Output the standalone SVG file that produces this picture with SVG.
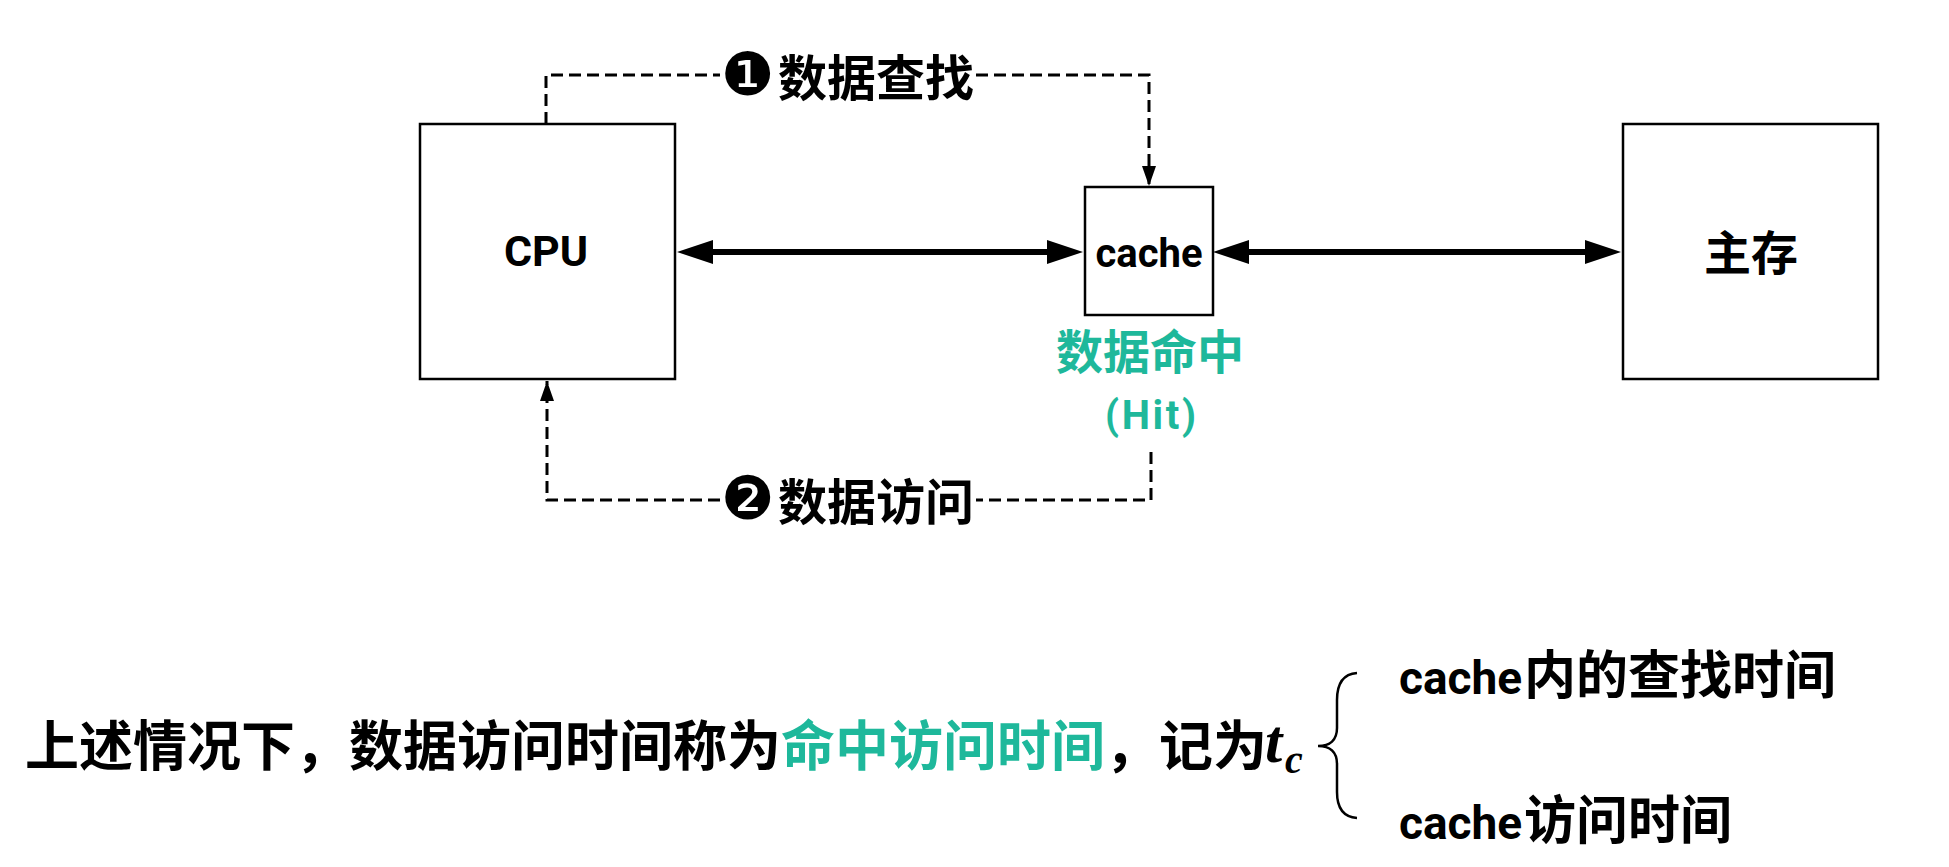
<svg xmlns="http://www.w3.org/2000/svg" width="1949" height="867" viewBox="0 0 1949 867">
<style>
.box{fill:#fff;stroke:#000;stroke-width:2.5}
.dash{fill:none;stroke:#000;stroke-width:3;stroke-dasharray:12 6}
.bus{fill:none;stroke:#000;stroke-width:6}
.lat{font-family:Roboto,"Liberation Sans",sans-serif;font-weight:bold}
.cjk{font-family:"Noto Sans CJK SC",sans-serif;font-weight:bold}
.num{font-family:"DejaVu Sans",sans-serif}
.math{font-family:"Liberation Serif",serif;font-style:italic;font-weight:bold}
.teal{fill:#1eb89b}
.blk{fill:#000}
</style>
<defs>
<marker id="big" markerUnits="userSpaceOnUse" markerWidth="36" markerHeight="24" refX="26" refY="12" orient="auto-start-reverse" viewBox="0 0 36 24">
<path d="M0,0 L36,12 L0,24 z" fill="#000"/>
</marker>
<marker id="small" markerUnits="userSpaceOnUse" markerWidth="20" markerHeight="14" refX="20" refY="7" orient="auto" viewBox="0 0 20 14">
<path d="M0,0 L20,7 L0,14 z" fill="#000"/>
</marker>
</defs>
<g id="connectors">
<path class="bus" d="M687,252 H1073" marker-start="url(#big)" marker-end="url(#big)"/>
<path class="bus" d="M1223,252 H1611" marker-start="url(#big)" marker-end="url(#big)"/>
<path class="dash" d="M546,124 V75 H720"/>
<path class="dash" d="M976,75 H1149 V186" marker-end="url(#small)"/>
<path class="dash" d="M1151,452 V500 H976"/>
<path class="dash" d="M720,500 H547 V381" marker-end="url(#small)"/>
<text x="721" y="95" font-size="60" class="num blk">❶</text>
<text x="778" y="96" font-size="49" class="cjk blk">数据查找</text>
<text x="721" y="519" font-size="60" class="num blk">❷</text>
<text x="778" y="520" font-size="49" class="cjk blk">数据访问</text>
</g>
<g id="cpu">
<rect class="box" x="420" y="124" width="255" height="255"/>
<text x="546" y="266" font-size="43" text-anchor="middle" class="lat blk">CPU</text>
</g>
<g id="cache">
<rect class="box" x="1085" y="187" width="128" height="128"/>
<text x="1149" y="267" font-size="40" text-anchor="middle" class="lat blk">cache</text>
<text x="1150" y="369" font-size="47" text-anchor="middle" class="cjk teal">数据命中</text>
<text x="1105" y="429" font-size="40" textLength="91" lengthAdjust="spacing" class="lat teal">(Hit)</text>
</g>
<g id="memory">
<rect class="box" x="1623" y="124" width="255" height="255"/>
<text x="1751" y="270" font-size="47" text-anchor="middle" class="cjk blk">主存</text>
</g>
<g id="summary">
<text x="25" y="766" font-size="54" class="cjk blk">上述情况下，数据访问时间称为<tspan class="teal">命中访问时间</tspan>，记为</text>
<text x="1265" y="762" font-size="62" class="math blk">t</text>
<text x="1285" y="773" font-size="40" class="math blk">c</text>
<path d="M1357,673 C1343,674 1337,684 1337,700 L1337,728 C1337,740 1330,746 1318,746 C1330,746 1337,752 1337,764 L1337,792 C1337,808 1343,817 1357,818" fill="none" stroke="#000" stroke-width="2.5"/>
<text x="1399" y="694" font-size="46" class="lat blk">cache</text>
<text x="1524" y="694" font-size="52" class="cjk blk">内的查找时间</text>
<text x="1399" y="839" font-size="46" class="lat blk">cache</text>
<text x="1524" y="839" font-size="52" class="cjk blk">访问时间</text>
</g>
</svg>
